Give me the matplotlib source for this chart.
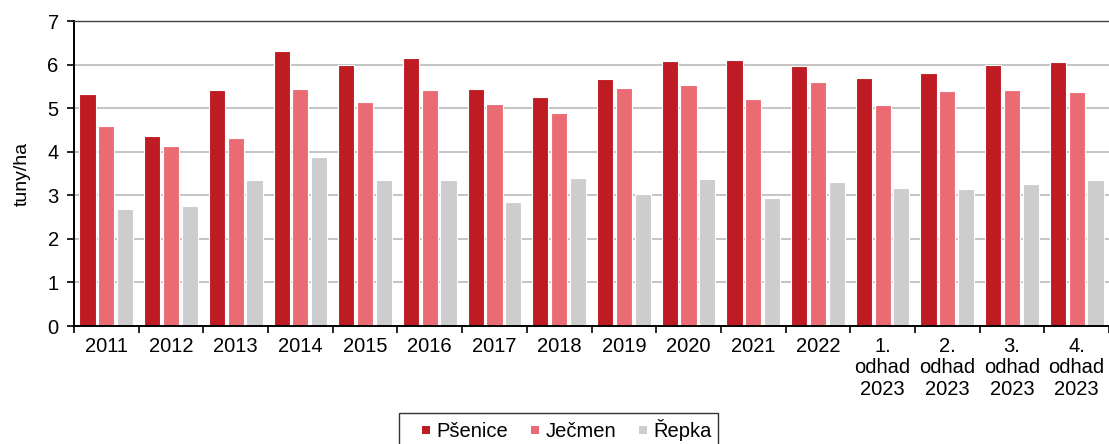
import numpy as np
import matplotlib.pyplot as plt
from matplotlib.ticker import FixedLocator
from matplotlib.patches import Rectangle, Patch
from matplotlib.legend_handler import HandlerPatch

plt.rcParams['font.family'] = ['Liberation Sans', 'DejaVu Sans']

# ============================================================
# DATA (tuny/ha)
# ============================================================

categories = [
    "2011", "2012", "2013", "2014", "2015", "2016", "2017", "2018",
    "2019", "2020", "2021", "2022",
    "1.\nodhad\n2023", "2.\nodhad\n2023", "3.\nodhad\n2023", "4.\nodhad\n2023",
]

psenice = [5.33, 4.36, 5.41, 6.32, 6.00, 6.15, 5.45, 5.25,
           5.68, 6.09, 6.10, 5.96, 5.69, 5.80, 5.98, 6.06]
jecmen = [4.58, 4.12, 4.31, 5.44, 5.14, 5.41, 5.09, 4.90,
          5.47, 5.52, 5.21, 5.60, 5.08, 5.39, 5.41, 5.36]
repka = [2.68, 2.75, 3.36, 3.87, 3.36, 3.34, 2.85, 3.40,
         3.02, 3.38, 2.94, 3.31, 3.16, 3.14, 3.27, 3.34]

series = [("Pšenice", psenice, "#be1b23"),
          ("Ječmen", jecmen, "#ea6b73"),
          ("Řepka", repka, "#cdcdcd")]


# small square legend key, pushed to the right end of the handle box
def small_square(legend, orig_handle, xdescent, ydescent, width, height, fontsize):
    s = 5.8
    return Rectangle((-xdescent + width - s, -ydescent + (height - s) / 2), s, s)


# ============================================================
# PLOT
# ============================================================

fig = plt.figure(figsize=(11.09, 4.44), dpi=100)
ax = fig.add_axes([74 / 1109, 1 - 326 / 444, 1035 / 1109, 305 / 444])

x = np.arange(len(categories))
w = 0.25
step = 0.29

proxies = []
for i, (name, vals, col) in enumerate(series):
    ax.bar(x + (i - 1) * step, vals, width=w, color=col,
           edgecolor="white", linewidth=0.8, label=name, zorder=2)
    proxies.append(Patch(facecolor=col, edgecolor="none", label=name))

ax.set_xlim(-0.5, len(categories) - 0.5)
ax.set_ylim(0, 7)
ax.set_yticks(range(0, 8))
ax.yaxis.grid(True, color="#bfbfbf", linewidth=1.3, zorder=0)
ax.set_axisbelow(True)

ax.set_xticks(x)
ax.set_xticklabels(categories, fontsize=14.5, linespacing=1.15)
ax.tick_params(axis="x", length=0, pad=8)
ax.xaxis.set_minor_locator(FixedLocator(np.arange(-0.5, len(categories), 1.0)))
ax.tick_params(axis="x", which="minor", length=5, width=1.2, direction="out")
ax.tick_params(axis="y", length=5, width=1.2, labelsize=14.5, pad=6)

ax.set_ylabel("tuny/ha", fontsize=14, labelpad=12)

for s in ["left", "bottom"]:
    ax.spines[s].set_linewidth(1.4)
ax.spines["top"].set_linewidth(1.0)
ax.spines["top"].set_color("#404040")
ax.spines["right"].set_visible(False)

leg = ax.legend(handles=proxies, loc="center", bbox_to_anchor=(0.468, -0.34),
                ncol=3, fontsize=14.5, frameon=True, fancybox=False,
                handlelength=1.25, handleheight=0.7, handletextpad=0.3,
                columnspacing=0.3, borderpad=0.3,
                handler_map={Patch: HandlerPatch(patch_func=small_square)})
leg.get_frame().set_edgecolor("black")
leg.get_frame().set_linewidth(1.0)

fig.savefig("out.png", dpi=100)
